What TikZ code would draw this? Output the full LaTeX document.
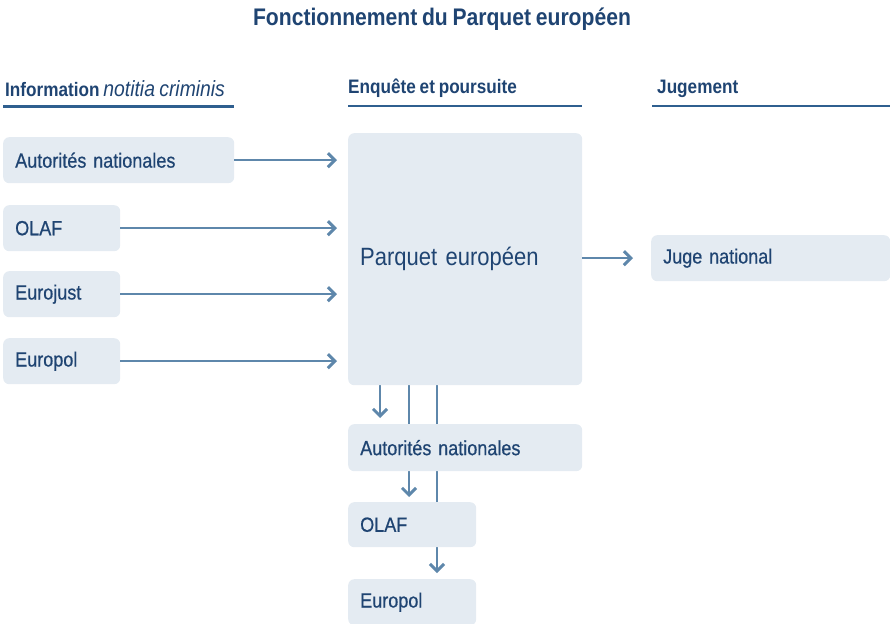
\documentclass[tikz,border=0pt]{standalone}
\usepackage{fontspec}
\setmainfont{Liberation Sans}[FakeStretch=0.88, WordSpace=0.8]
\newfontfamily\boxfont{Liberation Sans}[FakeStretch=0.88, WordSpace=0.75, FakeBold=0.6]
\usetikzlibrary{arrows.meta,backgrounds}
\definecolor{boxfill}{HTML}{E4EBF2}
\definecolor{arrowcol}{HTML}{5E87AB}
\definecolor{navy}{HTML}{1F4472}
\definecolor{rulecol}{HTML}{2F5F8F}
\begin{document}
\begin{tikzpicture}[x=1pt,y=-1pt,
  box/.style={fill=boxfill, rounded corners=6pt, inner xsep=12pt, inner ysep=0pt,
    text=navy, font=\boxfont\fontsize{20.5}{24}\selectfont, anchor=north west, align=left},
  hdr/.style={text=navy, font=\bfseries\fontsize{19.5}{22}\selectfont, inner sep=0pt, anchor=base west},
  rulel/.style={draw=rulecol, line width=2.4pt},
  conn/.style={draw=arrowcol, line width=2.5pt, -{Straight Barb[length=7pt,width=14pt,line width=3pt]}}]
\useasboundingbox (0,0) rectangle (890,623);
% title
\node[text=navy, font=\bfseries\fontsize{24}{28}\selectfont] (title) at (442,19) {Fonctionnement du Parquet européen};
% headers
\node[hdr] (h1) at (5,96) {Information \textit{\mdseries\fontsize{22}{24}\selectfont notitia criminis}};
\node[hdr] (h2) at (348,94) {Enquête et poursuite};
\node[hdr] (h3) at (657,94) {Jugement};
\draw[rulel] (3,106.5) -- (234,106.5);
\draw[rulel] (348,106) -- (582,106);
\draw[rulel] (652,106) -- (890,106);
% left boxes
\node[box, text width=207pt, minimum height=46pt] (an1) at (3,137) {Autorités nationales};
\node[box, text width=93pt, minimum height=46pt] (olaf1) at (3,205) {OLAF};
\node[box, text width=93pt, minimum height=46pt] (ej) at (3,271) {Eurojust};
\node[box, text width=93pt, minimum height=46pt] (ep1) at (3,338) {Europol};
% central
\node[box, text width=210pt, minimum height=252pt, font=\fontsize{25}{29}\selectfont] (pe) at (348,133) {Parquet européen};
\node[box, text width=215pt, minimum height=46pt] (juge) at (651,235) {Juge national};
\node[box, text width=210pt, minimum height=47pt] (an2) at (348,424) {Autorités nationales};
\node[box, text width=104pt, minimum height=45pt] (olaf2) at (348,502) {OLAF};
\node[box, text width=104pt, minimum height=46pt] (ep2) at (348,579) {Europol};
% arrows in
\draw[conn, shorten >=11pt] (an1.east) -- (an1.east -| pe.west);
\draw[conn, shorten >=11pt] (olaf1.east) -- (olaf1.east -| pe.west);
\draw[conn, shorten >=11pt] (ej.east) -- (ej.east -| pe.west);
\draw[conn, shorten >=11pt] (ep1.east) -- (ep1.east -| pe.west);
\draw[conn, shorten >=18pt] (pe.east |- juge.west) -- (juge.west);
% arrows down
\path ([xshift=32pt]pe.south west) coordinate (d1)
      ([xshift=61pt]pe.south west) coordinate (d2)
      ([xshift=89pt]pe.south west) coordinate (d3);
\begin{scope}[on background layer]
\draw[conn, shorten >=6pt] (d1) -- (d1 |- an2.north);
\draw[conn, shorten >=5pt] (d2) -- (d2 |- olaf2.north);
\draw[conn, shorten >=6pt] (d3) -- (d3 |- ep2.north);
\end{scope}
\end{tikzpicture}
\end{document}
